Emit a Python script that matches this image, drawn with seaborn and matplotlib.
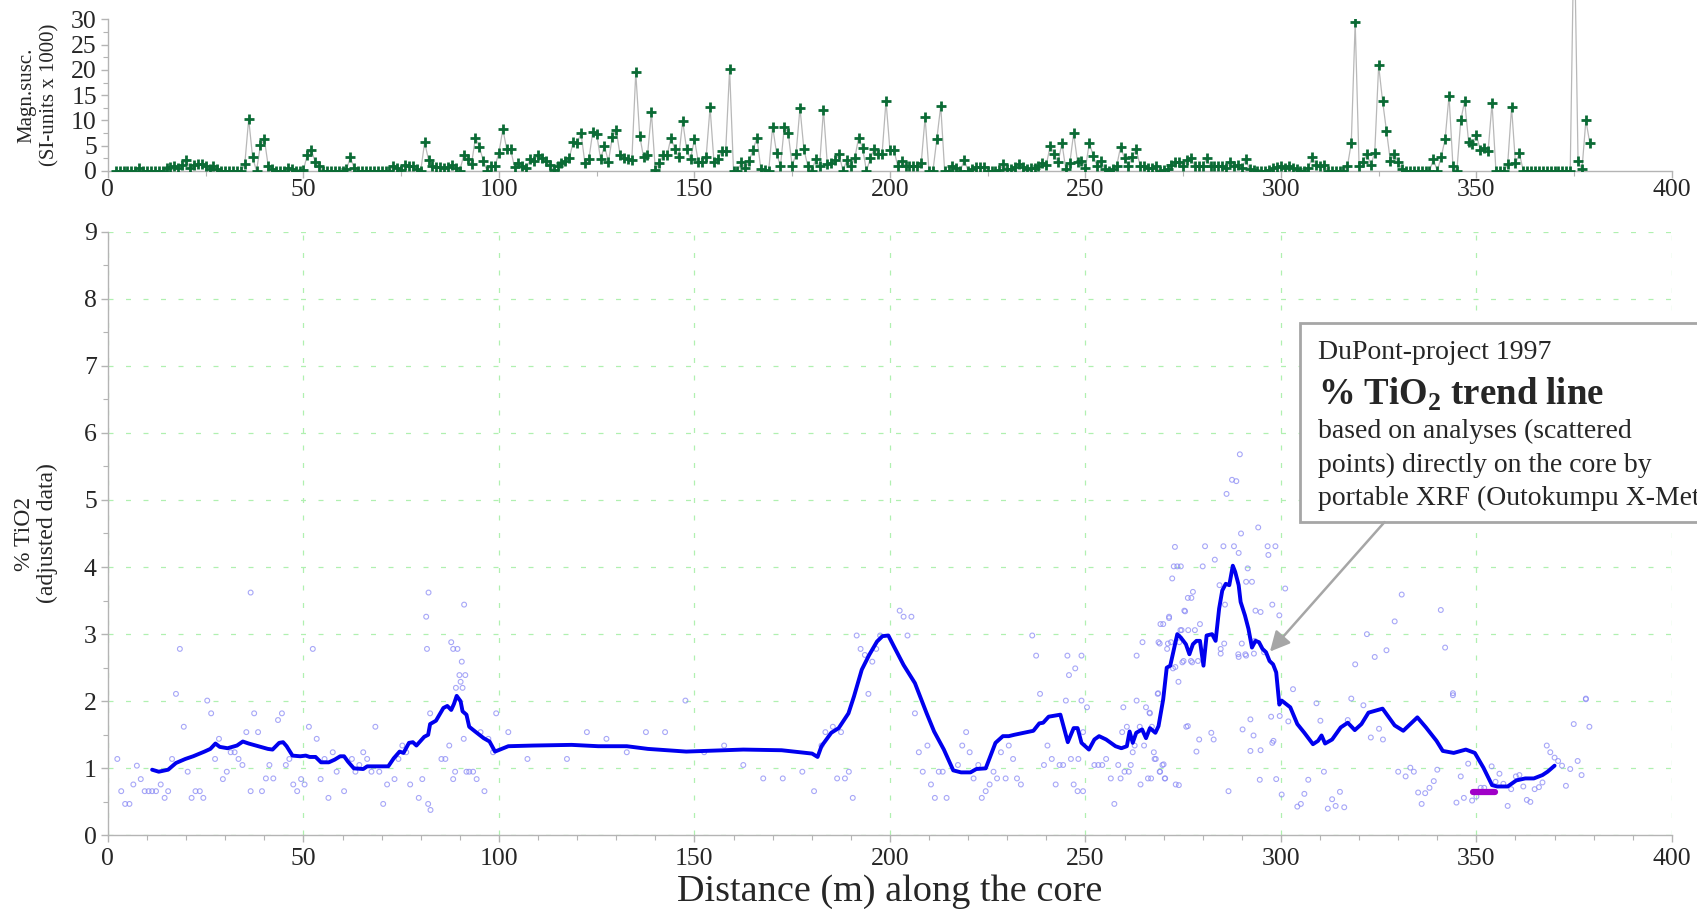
import numpy as np
import pandas as pd
import matplotlib
matplotlib.use("Agg")
import matplotlib.pyplot as plt
from matplotlib.patches import Rectangle
import seaborn as sns

# magnetic susceptibility readings, one per metre from 2 m to 379 m
ms_depth = np.arange(2, 380)
ms_value = [
    0, 0, 0, 0, 0, 0, 0.5, 0, 0, 0,
    0, 0, 0, 0.5, 0.7, 1.0, 0.5, 1.2, 2.2, 0.5,
    1.2, 1.4, 1.4, 0.9, 0.3, 0.9, 0.3, 0, 0, 0,
    0, 0, 0, 1.3, 10.3, 2.7, 0, 5.1, 6.3, 1.0,
    0.3, 0, 0, 0, 0.5, 0.3, 0, 0, 0.2, 3.2,
    4.2, 1.8, 1.0, 0, 0, 0, 0, 0, 0, 0.3,
    2.7, 0.5, 0, 0, 0, 0, 0, 0, 0, 0,
    0, 1.0, 0.5, 0.2, 1.2, 1.0, 0.9, 0.3, 0, 5.7,
    2.2, 0.9, 0.7, 0.7, 0.6, 0.8, 1.2, 0.5, 0, 3.2,
    2.3, 1.4, 6.6, 4.8, 2.0, 0, 1.0, 1.0, 3.6, 8.3,
    4.3, 4.3, 0.7, 1.6, 1.0, 0.5, 2.3, 2.0, 3.2, 2.5,
    2.0, 1.2, 0.2, 1.0, 1.5, 2.0, 2.6, 5.7, 5.5, 7.5,
    1.5, 2.3, 7.8, 7.3, 2.4, 5.0, 1.8, 6.7, 8.1, 3.1,
    2.5, 2.3, 2.2, 19.5, 7.0, 2.7, 3.1, 11.6, 0.2, 1.6,
    3.1, 3.1, 6.6, 4.3, 2.8, 9.9, 4.3, 2.3, 6.3, 1.8,
    1.8, 2.8, 12.6, 1.8, 2.3, 4.0, 4.0, 20.1, 0, 0,
    1.7, 0.5, 2.0, 4.2, 6.6, 0.3, 0.2, 0, 8.8, 3.6,
    0.9, 8.8, 7.5, 1.0, 3.4, 12.5, 4.3, 1.0, 0, 2.3,
    0.9, 12.1, 1.3, 1.5, 2.2, 3.3, 0, 2.2, 1.0, 2.5,
    6.6, 4.6, 0, 2.5, 4.4, 3.4, 3.4, 13.9, 4.2, 4.2,
    1.0, 2.0, 1.0, 0.9, 0.9, 1.0, 1.5, 10.6, 0, 0,
    6.3, 12.9, 0, 0, 1.0, 0.5, 0, 2.2, 0, 0.3,
    0.7, 0.7, 0.7, 0, 0, 0, 0.2, 1.3, 0.3, 0.3,
    0.7, 1.3, 0.7, 0.3, 0.5, 0.5, 0.9, 1.5, 1.2, 5.0,
    3.4, 1.7, 5.5, 0.3, 1.5, 7.5, 1.7, 2.0, 0.5, 5.6,
    3.0, 0.9, 2.0, 0.3, 0, 0.3, 1.0, 4.8, 2.5, 1.0,
    2.8, 4.3, 1.0, 0.9, 0.5, 0.5, 0.9, 0, 0.2, 0.3,
    1.2, 1.8, 1.7, 0.9, 2.2, 2.5, 1.0, 1.0, 1.0, 2.5,
    1.0, 0.9, 0.9, 0.9, 0.5, 1.8, 0.9, 1.2, 0.5, 2.3,
    0.3, 0.2, 0, 0, 0, 0.2, 0.5, 0.8, 1.0, 0.5,
    1.0, 0.5, 0.3, 0, 0, 0.5, 2.8, 1.2, 0.9, 1.2,
    0, 0, 0, 0, 0, 0.9, 5.5, 29.4, 1.0, 1.8,
    3.4, 1.2, 3.6, 20.9, 13.9, 7.9, 2.0, 3.4, 1.7, 0.3,
    0, 0, 0, 0, 0, 0, 0, 2.3, 0, 2.8,
    6.3, 14.9, 1.0, 0, 10.0, 13.9, 5.8, 5.3, 7.1, 4.2,
    4.5, 4.0, 13.4, 0, 0, 0, 1.3, 12.6, 1.5, 3.5,
    0, 0, 0, 0, 0, 0, 0, 0, 0, 0,
    0, 0, 0, 50, 2.0, 0.3, 10.0, 5.6,
]

# TiO2 trend line
trend_x = [11.3, 13, 15.4, 17.4, 19.8, 21.8, 24.7, 26.2, 27.5, 28.6, 30.6, 33, 34.5, 36,
           38.4, 40.9, 42.1, 43.8, 44.8, 45.7, 47.2, 49.2, 50.6, 51.6, 53.1, 54.5, 56.5,
           58, 59.4, 60.4, 61.4, 62.9, 65.3, 66.3, 68.7, 70.7, 71.7, 73.1, 74.6, 75.6, 77,
           78, 78.9, 80.9, 81.9, 82.4, 83.9, 85.8, 86.8, 87.8, 88.5, 89.2, 90.2, 90.7,
           91.7, 92.4, 93.9, 96.1, 97.6, 99, 102.4, 108.8, 118.6, 125.4, 132.7, 138.1,
           147.9, 162.5, 172.3, 180.1, 181.5, 182.5, 185, 186.9, 189.4, 190.8, 192.8,
           194.7, 196.7, 198.1, 199.6, 201, 203.5, 206.4, 209.4, 211.3, 213.8, 216.2,
           218.2, 220.6, 222.1, 224.5, 227, 228.9, 230.4, 231.8, 234.3, 236.7, 238.2,
           239.2, 240.6, 243.6, 245.5, 247, 248, 249, 250.9, 252.3, 253.5, 255.3, 257.7,
           259.2, 260.6, 261.3, 262.1, 263, 264.5, 265.5, 266.5, 267.9, 268.7, 269.9,
           270.8, 271.7, 273.5, 274.4, 275.7, 276.6, 277.5, 278.4, 279.3, 280.2, 281,
           282.4, 283.3, 284.2, 285, 285.9, 286.8, 287.7, 288.3, 289.2, 289.7, 290.8,
           291.7, 292.6, 293.5, 294.4, 295.3, 296.2, 297.1, 298, 298.8, 299.6, 300.2,
           302.4, 304.2, 306, 308.2, 309.5, 310.4, 311.3, 313.1, 315.3, 317.1, 318.9,
           320.6, 322.4, 326, 329.1, 331.3, 334.9, 337.1, 339.8, 341.4, 344.2, 347.3,
           349.6, 351.8, 354, 355.3, 358, 360.2, 362.5, 364.7, 366.9, 368.2, 370]
trend_y = [0.98, 0.95, 0.98, 1.08, 1.14, 1.18, 1.25, 1.29, 1.37, 1.32, 1.30, 1.34, 1.40, 1.37,
           1.33, 1.29, 1.28, 1.38, 1.39, 1.33, 1.19, 1.18, 1.19, 1.17, 1.17, 1.09, 1.09,
           1.13, 1.18, 1.18, 1.10, 1.00, 0.99, 1.03, 1.03, 1.03, 1.03, 1.15, 1.25, 1.23, 1.38,
           1.39, 1.34, 1.47, 1.50, 1.66, 1.71, 1.90, 1.93, 1.87, 1.96, 2.08, 2.00, 1.85,
           1.80, 1.62, 1.55, 1.45, 1.40, 1.25, 1.33, 1.34, 1.35, 1.33, 1.33, 1.29,
           1.25, 1.28, 1.27, 1.22, 1.17, 1.33, 1.53, 1.60, 1.82, 2.07, 2.47,
           2.69, 2.89, 2.97, 2.98, 2.82, 2.54, 2.27, 1.82, 1.55, 1.28, 0.97,
           0.94, 0.94, 0.99, 1.00, 1.38, 1.48, 1.48, 1.50, 1.53, 1.56, 1.67,
           1.68, 1.77, 1.80, 1.39, 1.60, 1.60, 1.38, 1.28, 1.43, 1.48, 1.43, 1.33,
           1.30, 1.33, 1.55, 1.38, 1.53, 1.58, 1.45, 1.60, 1.53, 1.63, 2.03,
           2.50, 2.53, 3.00, 2.95, 2.85, 2.70, 2.85, 2.90, 2.90, 2.53, 2.98,
           3.00, 2.90, 3.38, 3.65, 3.75, 3.73, 4.02, 3.93, 3.73, 3.48, 3.28,
           3.08, 2.80, 2.90, 2.88, 2.78, 2.73, 2.60, 2.55, 2.43, 1.95, 2.01,
           1.91, 1.66, 1.53, 1.36, 1.41, 1.49, 1.37, 1.43, 1.61, 1.68, 1.57,
           1.66, 1.83, 1.89, 1.64, 1.56, 1.76, 1.61, 1.41, 1.26, 1.23, 1.28,
           1.23, 1.01, 0.75, 0.73, 0.73, 0.82, 0.85, 0.85, 0.90, 0.95, 1.04]

# individual XRF analyses (scattered points)
xrf_x = [2.4, 3.4, 4.4, 5.5, 6.5, 7.4, 8.4, 9.4, 10.4, 11.3, 12.3, 13.5, 14.5, 15.4, 16.4,
         17.4, 18.4, 19.4, 20.4, 21.4, 22.4, 23.5, 24.4, 25.4, 26.4, 27.4, 28.4, 29.4, 30.4,
         31.4, 32.4, 33.4, 34.4, 35.4, 36.5, 36.5, 37.4, 38.4, 39.4, 40.4, 41.3, 42.3, 43.5,
         44.5, 45.5, 46.4, 47.4, 48.4, 49.4, 50.3, 51.4, 52.4, 53.4, 54.4, 55.4, 56.4, 57.5,
         58.5, 60.4, 62.4, 63.3, 64.3, 65.3, 66.3, 67.4, 68.4, 69.4, 70.4, 71.4, 73.3, 74.3,
         75.3, 76.3, 77.3, 79.5, 80.4, 81.4, 81.6, 81.9, 82.0, 82.5, 82.4, 85.3, 86.3, 87.3,
         87.8, 88.3, 88.3, 88.8, 89.0, 89.4, 89.9, 90.2, 90.5, 90.7, 91.0, 91.1, 91.4, 91.7,
         92.4, 93.4, 94.3, 95.3, 96.3, 97.3, 98.5, 99.3, 102.4, 107.3, 117.4, 122.5,
         127.5, 132.7, 137.6, 142.5, 147.7, 152.5, 157.6, 162.5, 167.6, 172.6, 177.6, 180.6,
         182.5, 183.5, 185.4, 186.5, 187.5, 188.5, 189.5, 190.5, 191.5, 192.5, 193.6, 194.5,
         195.5, 196.5, 197.5, 202.5, 203.5, 205.5, 204.5, 206.4, 207.4, 208.4, 209.6, 210.5,
         211.5, 212.5, 213.5, 214.5, 217.4, 218.5, 219.5, 220.4, 221.4, 222.6, 223.5, 224.5,
         225.5, 226.5, 227.4, 228.4, 229.6, 230.4, 231.5, 232.5, 233.5, 236.4, 237.4, 238.4,
         239.4, 240.3, 241.4, 242.4, 243.4, 244.3, 245.0, 245.4, 245.8, 246.3, 247.0, 247.4,
         248.0, 248.2, 249.0, 249.0, 249.4, 249.4, 250.4, 252.3, 253.3, 254.3, 255.3, 256.5,
         257.4, 258.4, 259.0, 259.4, 259.7, 260.0, 260.6, 261.1, 261.6, 262.1, 262.6, 263.1,
         263.1, 263.9, 264.1, 264.6, 265.0, 265.5, 266.0, 266.5, 267.0, 267.5, 268.0, 268.5,
         268.7, 269.0, 269.2, 269.7, 270.4, 270.9, 271.4, 271.9, 272.4, 273.1, 273.8, 274.0,
         274.3, 275.3, 275.8, 276.3,
         289.5, 287.5, 288.6, 286.1, 289.8, 294.2, 272.9, 280.6, 285.3, 288.0, 289.2, 296.6,
         298.6, 283.1, 296.8, 272.6, 273.5, 274.4, 280.0, 291.5, 272.2, 291.1, 292.6, 284.3,
         277.5, 276.2, 277.1, 301.1, 330.9, 275.5, 271.4, 297.8, 269.9, 279.3, 285.7, 293.5,
         294.8, 299.6, 340.9, 329.1, 342.0, 322.0, 327.0, 324.0, 319.0, 269.0, 271.1, 274.6,
         278.0, 285.5, 290.0, 293.3, 284.6, 277.3, 274.8, 289.2, 291.1, 295.7, 303.1, 344.0,
         378.0,
         268.6, 266.4, 273.0, 275.1, 277.0, 278.8, 284.6, 289.1, 290.9, 293.1, 276.2, 279.1,
         282.8, 282.2, 290.2, 292.2, 293.0, 294.8, 292.2, 297.8, 298.1, 297.5, 299.7, 301.9,
         300.2, 298.8, 294.6, 286.6, 278.4, 273.9, 267.7, 270.0, 269.1, 270.3, 266.8, 304.2,
         305.1, 306.0, 307.0, 309.1, 310.1, 311.0, 312.0, 313.1, 314.0, 315.1, 316.2, 317.1,
         318.0, 321.1, 323.0, 325.1, 326.1, 330.0, 331.9, 333.1, 334.0, 335.1, 336.0, 336.9,
         338.0, 339.1, 340.0, 344.0, 344.9, 346.0, 346.8, 347.9, 348.9, 350.0, 351.1, 352.0,
         353.9, 354.9, 355.9, 356.9, 358.0, 358.9, 360.1, 361.0, 362.0, 362.9, 363.8, 364.9,
         366.0, 366.9, 368.0, 368.9, 370.0, 370.9, 371.9, 372.9, 374.0, 374.9, 375.9, 376.9,
         378.0, 378.9]
xrf_y = [1.14, 0.66, 0.47, 0.47, 0.76, 1.04, 0.84, 0.66, 0.66, 0.66, 0.66, 0.76, 0.56, 0.66, 1.14,
         2.11, 2.78, 1.62, 0.95, 0.56, 0.66, 0.66, 0.56, 2.01, 1.82, 1.14, 1.44, 0.84, 0.95,
         1.24, 1.24, 1.14, 1.05, 1.54, 0.66, 3.62, 1.82, 1.54, 0.66, 0.85, 1.05, 0.85, 1.72,
         1.82, 1.05, 1.14, 0.76, 0.66, 0.84, 0.76, 1.62, 2.78, 1.44, 0.84, 1.14, 0.56, 1.24,
         0.95, 0.66, 1.14, 0.95, 1.05, 1.24, 1.14, 0.95, 1.62, 0.95, 0.47, 0.76, 0.84, 1.14,
         1.34, 1.24, 0.76, 0.56, 0.84, 3.26, 2.78, 0.47, 3.62, 0.38, 1.82, 1.14, 1.14, 1.34,
         2.88, 2.78, 0.84, 0.95, 2.20, 2.78, 2.39, 2.29, 2.59, 2.20, 1.44, 3.44, 2.39, 0.95,
         0.95, 0.95, 0.84, 1.54, 0.66, 1.44, 1.24, 1.82, 1.54, 1.14, 1.14, 1.54,
         1.44, 1.24, 1.54, 1.54, 2.01, 1.24, 1.34, 1.05, 0.85, 0.85, 0.95, 0.66,
         1.34, 1.54, 1.62, 0.85, 1.54, 0.85, 0.95, 0.56, 2.98, 2.78, 2.69, 2.11,
         2.59, 2.78, 2.98, 3.35, 3.26, 3.26, 2.98, 1.82, 1.24, 0.95, 1.34, 0.76,
         0.56, 0.95, 0.95, 0.56, 1.05, 1.34, 1.54, 1.24, 0.85, 1.05, 0.56, 0.66,
         0.76, 0.95, 0.85, 1.24, 0.85, 1.34, 1.14, 0.85, 0.76, 2.98, 2.68, 2.11,
         1.05, 1.34, 1.14, 0.76, 1.05, 1.05, 2.01, 2.68, 2.39, 1.14, 0.76, 2.49,
         0.66, 1.14, 2.01, 2.68, 0.66, 1.54, 1.91, 1.05, 1.05, 1.05, 1.14, 0.85,
         0.47, 1.05, 0.85, 1.54, 1.91, 0.95, 1.62, 0.95, 1.05, 1.24, 1.34, 2.68,
         2.01, 1.62, 0.76, 2.88, 1.34, 1.91, 0.85, 1.82, 1.62, 1.24, 1.14, 2.11,
         2.88, 0.95, 3.15, 1.05, 0.85, 2.78, 3.26, 2.88, 2.49, 0.76, 2.29, 2.88,
         3.06, 3.35, 1.62, 3.06,
         5.68, 5.30, 5.28, 5.09, 4.50, 4.59, 4.30, 4.31, 4.31, 4.31, 4.21, 4.31,
         4.31, 4.11, 4.18, 4.01, 4.01, 4.01, 4.01, 3.98, 3.83, 3.78, 3.78, 3.73,
         3.63, 3.54, 3.54, 3.68, 3.59, 3.34, 3.24, 3.44, 3.15, 3.15, 3.44, 3.35,
         3.33, 3.28, 3.36, 3.19, 2.80, 3.00, 2.76, 2.66, 2.55, 2.86, 2.86, 3.06,
         3.06, 2.86, 2.86, 2.90, 2.78, 2.58, 2.58, 2.66, 2.68, 2.73, 2.18, 2.09,
         2.03,
         2.12, 1.83, 2.51, 2.60, 2.60, 2.60, 2.71, 2.70, 2.70, 2.71, 1.63, 1.43,
         1.43, 1.53, 1.58, 1.73, 1.49, 1.27, 1.26, 1.38, 1.41, 1.77, 1.78, 1.70,
         0.61, 0.84, 0.83, 0.66, 1.25, 0.75, 1.14, 1.06, 0.95, 0.85, 0.85, 0.43,
         0.47, 0.62, 0.83, 1.97, 1.71, 0.95, 0.40, 0.54, 0.44, 0.65, 0.42, 1.72,
         2.04, 1.94, 1.46, 1.59, 1.43, 0.95, 0.88, 1.01, 0.95, 0.64, 0.47, 0.63,
         0.71, 0.81, 0.98, 2.12, 0.49, 0.88, 0.56, 1.07, 0.52, 0.58, 0.71, 0.71,
         1.03, 0.80, 0.92, 0.77, 0.44, 0.69, 0.88, 0.90, 0.73, 0.53, 0.50, 0.69,
         0.72, 0.79, 1.34, 1.24, 1.16, 1.11, 1.04, 0.74, 0.99, 1.66, 1.11, 0.90,
         2.04, 1.62]

# short purple bar near 350 m
bar_x = [349.2, 354.8]
bar_y = [0.65, 0.65]

# annotation text
note_lines = ["DuPont-project 1997",
              r"% TiO$_\mathbf{2}$ trend line",
              "based on analyses (scattered",
              "points) directly on the core by",
              "portable XRF (Outokumpu X-Met"]

sns.set_style("ticks")
plt.rcParams['font.family'] = ['Liberation Serif', 'DejaVu Serif']
plt.rcParams['mathtext.fontset'] = 'custom'
plt.rcParams['mathtext.rm'] = 'Liberation Serif'
plt.rcParams['mathtext.bf'] = 'Liberation Serif:bold'

spine_col = '#b4b4b4'
green = '#0b6b35'

fig = plt.figure(figsize=(16.97, 9.09), dpi=100)
ax1 = fig.add_axes([0.0636, 0.8119, 0.9216, 0.1667])
ax2 = fig.add_axes([0.0636, 0.0809, 0.9216, 0.6644])

# ---- top panel: magnetic susceptibility
ms = pd.DataFrame({"depth": ms_depth, "value": ms_value})
sns.lineplot(data=ms, x="depth", y="value", ax=ax1, color='#b8b8b8', lw=0.9,
             estimator=None, sort=False, clip_on=False)
sns.scatterplot(data=ms, x="depth", y="value", ax=ax1, marker='+', s=60,
                color=green, linewidth=2.0, zorder=3)
ax1.set_xlim(0, 400)
ax1.set_ylim(0, 30)
ax1.set_xticks(range(0, 401, 50))
ax1.set_xticks(range(0, 401, 25), minor=True)
ax1.set_yticks(range(0, 31, 5))
ax1.set_yticks(np.arange(0, 30.1, 2.5), minor=True)
ax1.set_xlabel("")
ax1.set_ylabel("Magn.susc.\n(SI-units x 1000)", fontsize=15, linespacing=1.3)
ax1.yaxis.set_label_coords(-0.031, 0.5)

# ---- bottom panel: TiO2
xrf = pd.DataFrame({"x": xrf_x, "y": xrf_y})
trend = pd.DataFrame({"x": trend_x, "y": trend_y})
sns.scatterplot(data=xrf, x="x", y="y", ax=ax2, marker='o', s=12,
                facecolor='none', edgecolor='#8a8af5', linewidth=0.8, alpha=0.75, zorder=2)
sns.lineplot(data=trend, x="x", y="y", ax=ax2, color='#0000ee', lw=2.8,
             estimator=None, sort=False, zorder=3)
sns.lineplot(x=bar_x, y=bar_y, ax=ax2, color='#a000c8', lw=4.5, zorder=3)
ax2.set_xlim(0, 400)
ax2.set_ylim(0, 9)
ax2.set_xticks(range(0, 401, 50))
ax2.set_xticks(range(0, 401, 10), minor=True)
ax2.set_yticks(range(0, 10))
ax2.set_yticks(np.arange(0, 9.01, 0.5), minor=True)
ax2.grid(True, which='major', color='#b0f0b0', linestyle=(0, (4, 10)), lw=0.9)
ax2.set_xlabel("")
ax2.set_ylabel("% TiO2\n(adjusted data)", fontsize=17, linespacing=1.1)
ax2.yaxis.set_label_coords(-0.032, 0.5)

for ax in (ax1, ax2):
    sns.despine(ax=ax)
    for s in ('left', 'bottom'):
        ax.spines[s].set_color(spine_col)
        ax.spines[s].set_linewidth(1.0)
    ax.tick_params(which='major', length=5, width=1, color=spine_col,
                   labelsize=18.5, direction='out')
    ax.tick_params(which='minor', length=3.5, width=0.8, color=spine_col, direction='out')
    ax.tick_params(axis='y', pad=3)
    ax.set_axisbelow(True)
ax1.tick_params(axis='x', pad=1)
ax2.tick_params(axis='x', pad=4)

fig.text(0.5245, 0.019, "Distance (m) along the core", fontsize=27.5,
         ha='center', va='center')

# annotation box with arrow
box = Rectangle((304.9, 4.67), 130, 2.96, facecolor='white', edgecolor='#a6a6a6',
                lw=2, clip_on=False, zorder=5)
ax2.add_patch(box)
ax2.annotate("", xy=(297.2, 2.74), xytext=(326.5, 4.67),
             arrowprops=dict(arrowstyle='-|>', color='#a6a6a6', lw=1.8,
                             mutation_scale=30, shrinkA=0, shrinkB=0), zorder=6)
line_y = [7.19, 6.58, 6.02, 5.52, 5.03]
line_size = [20, 26.5, 20, 20, 20]
line_weight = ['normal', 'bold', 'normal', 'normal', 'normal']
for txt, yy, fs, fw in zip(note_lines, line_y, line_size, line_weight):
    ax2.text(309.5, yy, txt, fontsize=fs, fontweight=fw, ha='left', va='center',
             zorder=7, clip_on=False)

fig.savefig("out.png", dpi=100)
